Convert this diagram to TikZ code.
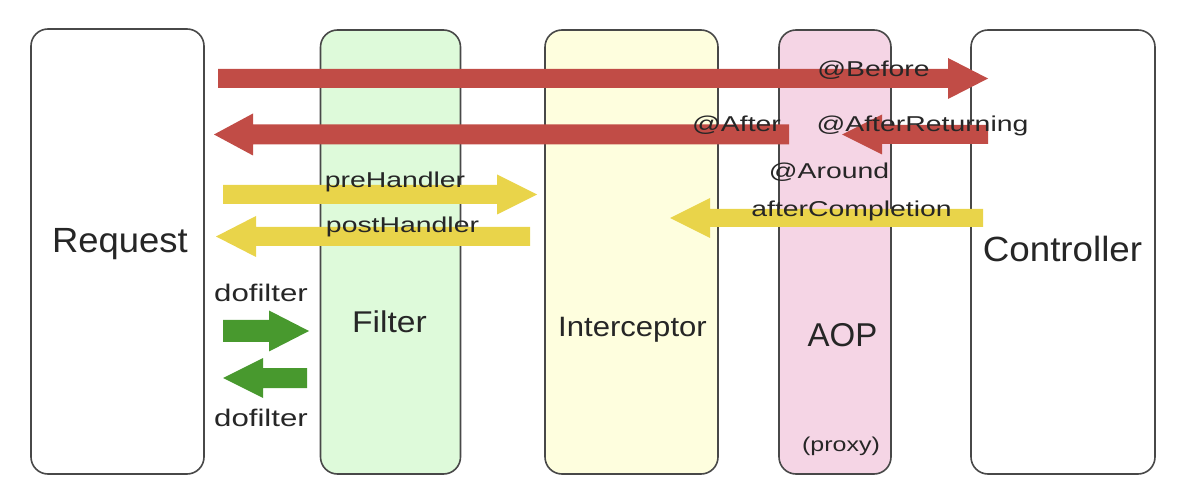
\documentclass[tikz,border=0pt]{standalone}
\usepackage{fontspec}
\usepackage{graphicx}
\setmainfont{Liberation Sans}
\definecolor{arred}{RGB}{193,76,70}
\definecolor{aryel}{RGB}{233,212,74}
\definecolor{argrn}{RGB}{72,153,46}
\definecolor{fgreen}{RGB}{222,250,218}
\definecolor{fyel}{RGB}{254,254,222}
\definecolor{fpink}{RGB}{245,213,229}
\definecolor{bord}{RGB}{72,72,72}
\newcommand\wtext[3]{\scalebox{#2}[1]{\fontsize{#1}{#1}\selectfont #3}}
% #1 colour, #2 tail x, #3 head base x, #4 tip x, #5 y, #6 body half, #7 head half
\newcommand\barrow[7]{\fill[#1] (#2,#5-#6) -- (#3,#5-#6) -- (#3,#5-#7) -- (#4,#5) -- (#3,#5+#7) -- (#3,#5+#6) -- (#2,#5+#6) -- cycle;}
\begin{document}
\begin{tikzpicture}[x=1pt,y=-1pt,
  col/.style={draw=bord, line width=1.6pt, rounded corners=17pt, minimum height=444pt, inner sep=0pt},
  lbl/.style={anchor=base, inner sep=0pt, text=black!85}]
\useasboundingbox (0,0) rectangle (1188,502);
% columns
\node[col, minimum width=173pt, minimum height=445pt, fill=white] (req) at (117.5,251.5) {};
\node[col, minimum width=140pt, fill=fgreen] (fil) at (390.5,252) {};
\node[col, minimum width=173pt, fill=fyel] (int) at (631.5,252) {};
\node[col, minimum width=112pt, fill=fpink] (aop) at (835,252) {};
\node[col, minimum width=184pt, fill=white] (ctl) at (1063,252) {};
% red arrows
\barrow{arred}{218}{948}{988}{78.5}{9.5}{20.5}
\barrow{arred}{789}{253}{214}{134.5}{10}{21}
\barrow{arred}{988}{882}{842}{134.5}{9.5}{20}
% yellow arrows
\barrow{aryel}{223}{497}{537}{194.5}{9.5}{20}
\barrow{aryel}{530}{256}{216}{236.5}{9.5}{20.5}
\barrow{aryel}{983}{710}{670}{218}{9}{20}
% green arrows
\barrow{argrn}{223}{269}{309}{331}{11}{20.5}
\barrow{argrn}{307}{263}{223}{378}{10}{20}
% column labels
\node[lbl] (treq) at (120,253) {\wtext{35}{1.04}{Request}};
\node[lbl] (tfil) at (389.5,333) {\wtext{30}{1.12}{Filter}};
\node[lbl] (tint) at (632.5,337) {\wtext{28}{1.11}{Interceptor}};
\node[lbl] (taop) at (842.5,347) {\wtext{33}{1.0}{AOP}};
\node[lbl] (tctl) at (1062.5,262) {\wtext{35}{1.05}{Controller}};
\node[lbl] (tprx) at (841,451) {\wtext{20}{1.25}{(proxy)}};
% arrow labels
\node[lbl] (lbef) at (873.5,77) {\wtext{21.5}{1.32}{@Before}};
\node[lbl] (laft) at (736.5,132) {\wtext{21.5}{1.32}{@After}};
\node[lbl] (laftr) at (922.5,132) {\wtext{21.5}{1.32}{@AfterReturning}};
\node[lbl] (laro) at (829,179) {\wtext{21.5}{1.32}{@Around}};
\node[lbl] (lacmp) at (851.5,217) {\wtext{21.5}{1.32}{afterCompletion}};
\node[lbl] (lpre) at (395,188) {\wtext{21.5}{1.32}{preHandler}};
\node[lbl] (lpost) at (402.5,233) {\wtext{21.5}{1.32}{postHandler}};
\node[lbl] (ldf1) at (261,302) {\wtext{24}{1.3}{dofilter}};
\node[lbl] (ldf2) at (261,426) {\wtext{24}{1.3}{dofilter}};
\end{tikzpicture}
\end{document}
